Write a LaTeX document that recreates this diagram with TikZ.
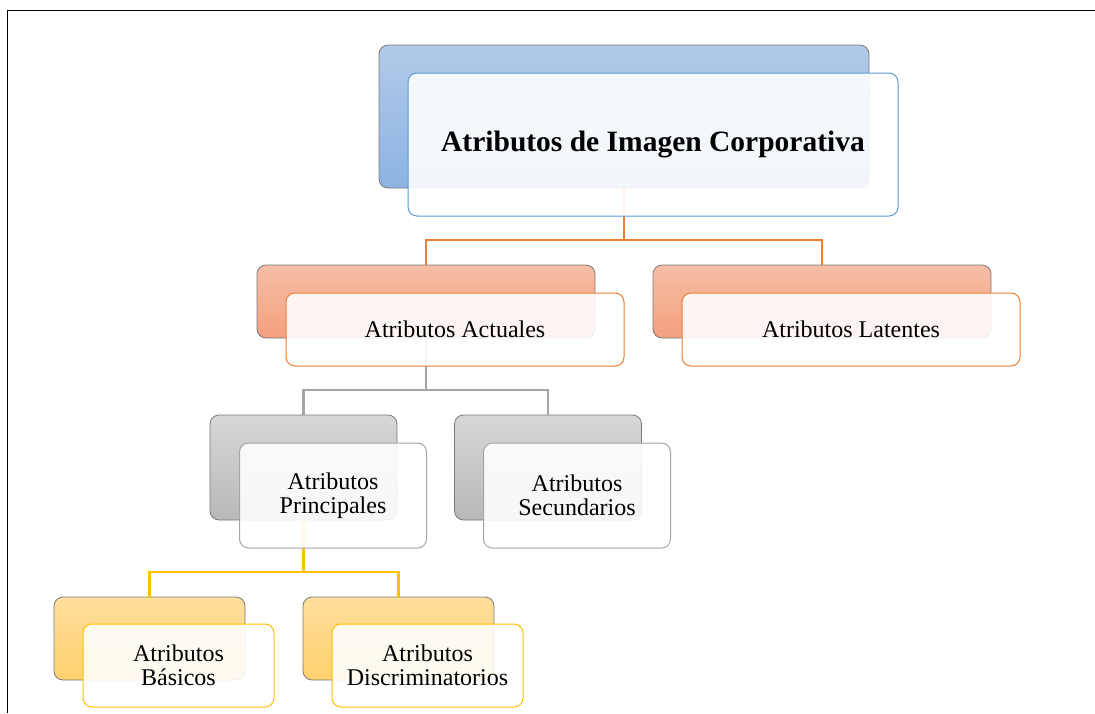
\documentclass[tikz,border=0pt]{standalone}
\usepackage{fontspec}
\setmainfont{Liberation Serif}
\definecolor{bluetop}{HTML}{B1CAE8}
\definecolor{bluebot}{HTML}{8DB3E2}
\definecolor{blueline}{HTML}{5B9BD5}
\definecolor{orgtop}{HTML}{F6BEA6}
\definecolor{orgbot}{HTML}{F4A07E}
\definecolor{orgline}{HTML}{ED7D31}
\definecolor{graytop}{HTML}{D7D7D7}
\definecolor{graybot}{HTML}{B8B8B8}
\definecolor{grayline}{HTML}{A5A5A5}
\definecolor{yeltop}{HTML}{FFDF9C}
\definecolor{yelbot}{HTML}{FFD06E}
\definecolor{yelline}{HTML}{FFC000}
\definecolor{backedge}{HTML}{7A7A7A}
\tikzset{
  backbox/.style={rectangle, rounded corners=9pt, draw=backedge, line width=0.8pt, inner sep=0pt, outer sep=0pt},
  frontbox/.style={rectangle, rounded corners=9pt, line width=1pt, inner sep=0pt, outer sep=0pt, fill=white, fill opacity=0.89, text opacity=1, align=center, font=\fontsize{24}{24.5}\selectfont},
  conn/.style={line width=2.2pt},
  bigsz/.style={minimum width=490pt, minimum height=143pt},
  midsz/.style={minimum width=338pt, minimum height=73pt},
  smlsz/.style={minimum width=187pt, minimum height=105pt},
  tinysz/.style={minimum width=191pt, minimum height=83pt},
}
\begin{document}
\begin{tikzpicture}[x=1pt,y=1pt]
\useasboundingbox (0,0) rectangle (1095,-713);
\draw[line width=1.3pt] (7.5,-713) -- (7.5,-10.3) -- (1095,-10.3);
% back boxes
\node[backbox, bigsz, top color=bluetop, bottom color=bluebot] (b0) at (624,-116.5) {};
\node[backbox, midsz, top color=orgtop, bottom color=orgbot] (b1) at (426,-301.5) {};
\node[backbox, midsz, top color=orgtop, bottom color=orgbot] (b2) at (822,-301.5) {};
\node[backbox, smlsz, top color=graytop, bottom color=graybot] (b3) at (303.5,-467.5) {};
\node[backbox, smlsz, top color=graytop, bottom color=graybot] (b4) at (548,-467.5) {};
\node[backbox, tinysz, top color=yeltop, bottom color=yelbot] (b5) at (149.5,-638.5) {};
\node[backbox, tinysz, top color=yeltop, bottom color=yelbot] (b6) at (398.5,-638.5) {};
% connectors
\draw[conn, orgline] (b0.south) -- ++(0,-52) coordinate (j0);
\draw[conn, orgline] (j0) -| (b1.north);
\draw[conn, orgline] (j0) -| (b2.north);
\draw[conn, grayline] (b1.south) -- ++(0,-52) coordinate (j1);
\draw[conn, grayline] (j1) -| (b3.north);
\draw[conn, grayline] (j1) -| (b4.north);
\draw[conn, yelline] (b3.south) -- ++(0,-52) coordinate (j2);
\draw[conn, yelline] (j2) -| (b5.north);
\draw[conn, yelline] (j2) -| (b6.north);
% front boxes
\node[frontbox, bigsz, draw=blueline, font=\fontsize{29.5}{32}\selectfont\bfseries] (f0) at (653,-144.5) {Atributos de Imagen Corporativa};
\node[frontbox, midsz, draw=orgline] (f1) at (455,-329.5) {Atributos Actuales};
\node[frontbox, midsz, draw=orgline] (f2) at (851,-329.5) {Atributos Latentes};
\node[frontbox, smlsz, draw=grayline] (f3) at (333,-495.5) {Atributos\\Principales};
\node[frontbox, smlsz, draw=grayline] (f4) at (577,-495.5) {Atributos\\Secundarios};
\node[frontbox, tinysz, draw=yelline] (f5) at (178.5,-665.5) {Atributos\\Básicos};
\node[frontbox, tinysz, draw=yelline] (f6) at (427.5,-665.5) {Atributos\\Discriminatorios};
\end{tikzpicture}
\end{document}
